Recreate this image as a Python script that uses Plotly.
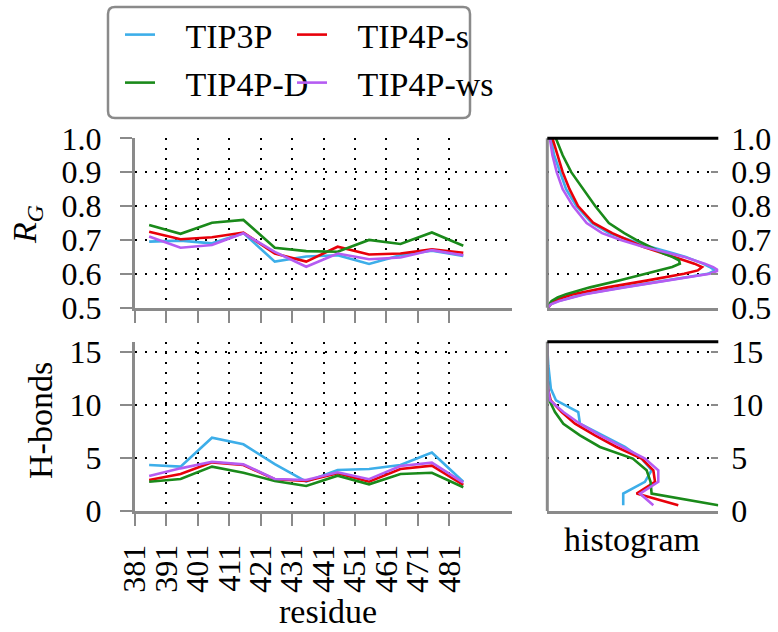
import plotly.graph_objects as go

# ---------------- data ----------------
series = ["TIP3P", "TIP4P-D", "TIP4P-s", "TIP4P-ws"]
colors = {"TIP3P": "#3DAEE9", "TIP4P-D": "#1A8A1A", "TIP4P-s": "#E8000A", "TIP4P-ws": "#B55CF2"}

residue_ticks = [381, 391, 401, 411, 421, 431, 441, 451, 461, 471, 481]
residue_pos = [385.5, 395.5, 405.5, 415.5, 425.5, 435.5, 445.5, 455.5, 465.5, 475.5, 485.5]

rg_tip3p = [0.695, 0.698, 0.690, 0.720, 0.636, 0.651, 0.655, 0.629, 0.655, 0.668, 0.653]
rg_tip4pd = [0.744, 0.718, 0.751, 0.759, 0.677, 0.667, 0.665, 0.700, 0.688, 0.722, 0.683]
rg_tip4ps = [0.724, 0.702, 0.708, 0.722, 0.660, 0.636, 0.680, 0.657, 0.660, 0.672, 0.662]
rg_tip4pws = [0.710, 0.677, 0.685, 0.720, 0.665, 0.621, 0.660, 0.643, 0.648, 0.670, 0.655]

hb_tip3p = [4.35, 4.19, 6.93, 6.30, 4.44, 2.77, 3.88, 3.97, 4.35, 5.52, 2.77]
hb_tip4pd = [2.77, 3.03, 4.19, 3.62, 2.84, 2.36, 3.34, 2.52, 3.50, 3.62, 2.24]
hb_tip4ps = [2.93, 3.50, 4.60, 4.35, 3.00, 2.84, 3.56, 2.77, 3.97, 4.29, 2.46]
hb_tip4pws = [3.31, 4.03, 4.66, 4.41, 3.03, 2.93, 3.66, 3.00, 4.25, 4.57, 2.68]

# histogram of R_G (relative density)
rg_levels = [0.50, 0.51, 0.52, 0.53, 0.54, 0.56, 0.58, 0.60, 0.61, 0.62, 0.63, 0.64,
             0.65, 0.66, 0.68, 0.70, 0.72, 0.75, 0.80, 0.85, 0.90, 0.95, 1.00]
rgh_tip3p = [0.005, 0.02, 0.065, 0.13, 0.21, 0.44, 0.68, 0.94, 0.98, 0.95, 0.91, 0.86,
             0.81, 0.74, 0.60, 0.48, 0.36, 0.26, 0.17, 0.11, 0.075, 0.04, 0.02]
rgh_tip4pd = [0.003, 0.01, 0.025, 0.06, 0.11, 0.25, 0.42, 0.58, 0.66, 0.73, 0.775, 0.77,
              0.73, 0.68, 0.60, 0.52, 0.45, 0.36, 0.28, 0.21, 0.14, 0.09, 0.05]
rgh_tip4ps = [0.005, 0.02, 0.045, 0.09, 0.15, 0.35, 0.58, 0.80, 0.88, 0.905, 0.86, 0.80,
              0.74, 0.67, 0.56, 0.47, 0.38, 0.27, 0.18, 0.13, 0.09, 0.06, 0.03]
rgh_tip4pws = [0.005, 0.02, 0.07, 0.14, 0.22, 0.45, 0.70, 0.95, 1.00, 0.97, 0.92, 0.86,
               0.80, 0.72, 0.56, 0.43, 0.32, 0.23, 0.15, 0.09, 0.055, 0.03, 0.015]

# histogram of H-bonds (relative density)
hb_levels = [0.55, 1.65, 2.75, 3.85, 4.95, 6.05, 7.15, 8.25, 9.35, 10.45, 11.55, 12.65, 13.75, 14.85, 15.95]
hbh_tip3p = [0.444, 0.444, 0.571, 0.610, 0.552, 0.454, 0.324, 0.191, 0.181, 0.051, 0.021, 0.012, 0.006, 0.002, 0.0]
hbh_tip4pd = [1.000, 0.610, 0.604, 0.581, 0.500, 0.308, 0.191, 0.094, 0.045, 0.012, 0.004, 0.0, 0.0, 0.0, 0.0]
hbh_tip4ps = [0.766, 0.522, 0.630, 0.620, 0.552, 0.405, 0.279, 0.162, 0.084, 0.020, 0.004, 0.0, 0.0, 0.0, 0.0]
hbh_tip4pws = [0.620, 0.542, 0.649, 0.649, 0.571, 0.435, 0.308, 0.191, 0.094, 0.016, 0.004, 0.0, 0.0, 0.0, 0.0]

rg_data = {"TIP3P": rg_tip3p, "TIP4P-D": rg_tip4pd, "TIP4P-s": rg_tip4ps, "TIP4P-ws": rg_tip4pws}
hb_data = {"TIP3P": hb_tip3p, "TIP4P-D": hb_tip4pd, "TIP4P-s": hb_tip4ps, "TIP4P-ws": hb_tip4pws}
rgh_data = {"TIP3P": rgh_tip3p, "TIP4P-D": rgh_tip4pd, "TIP4P-s": rgh_tip4ps, "TIP4P-ws": rgh_tip4pws}
hbh_data = {"TIP3P": hbh_tip3p, "TIP4P-D": hbh_tip4pd, "TIP4P-s": hbh_tip4ps, "TIP4P-ws": hbh_tip4pws}

rg_ticks = [0.5, 0.6, 0.7, 0.8, 0.9, 1.0]
rg_ticktext = ["0.5", "0.6", "0.7", "0.8", "0.9", "1.0"]
hb_ticks = [0, 5, 10, 15]

# ---------------- layout helpers ----------------
W, H = 778, 632
FONT = "Liberation Serif, DejaVu Serif, serif"
FS = 34      # titles / legend
TFS = 32     # tick labels
GRAY = "#8a8a8a"


def px(x):
    return x / W


def py(y):
    return 1 - y / H


xL = [px(135), px(512)]
xR = [px(547.3), px(718.3)]
yT = [py(307.7), py(138.3)]
yB = [py(511), py(341.7)]

LW = 2.6
fig = go.Figure()

# one legend per entry so that the 2x2 arrangement matches exactly
legend_of = {"TIP3P": "legend", "TIP4P-s": "legend2", "TIP4P-D": "legend3", "TIP4P-ws": "legend4"}
legend_pos = {"legend": (120, 35), "legend2": (292, 35), "legend3": (120, 83), "legend4": (292, 83)}
order = ["TIP3P", "TIP4P-s", "TIP4P-D", "TIP4P-ws"]
PAD = "\u00a0\u00a0\u00a0"

for s in order:
    fig.add_trace(go.Scatter(x=residue_pos, y=rg_data[s], mode="lines", name=PAD + s,
                             line=dict(color=colors[s], width=LW), xaxis="x", yaxis="y",
                             legend=legend_of[s], showlegend=True))
for s in order:
    fig.add_trace(go.Scatter(x=rgh_data[s], y=rg_levels, mode="lines", name=s,
                             line=dict(color=colors[s], width=LW), xaxis="x2", yaxis="y2",
                             showlegend=False))
for s in order:
    fig.add_trace(go.Scatter(x=residue_pos, y=hb_data[s], mode="lines", name=s,
                             line=dict(color=colors[s], width=LW), xaxis="x3", yaxis="y3",
                             showlegend=False))
for s in order:
    fig.add_trace(go.Scatter(x=hbh_data[s], y=hb_levels, mode="lines", name=s,
                             line=dict(color=colors[s], width=LW), xaxis="x4", yaxis="y4",
                             showlegend=False))

grid = dict(showgrid=True, gridcolor="black", gridwidth=1.6, griddash="2px,8px", zeroline=False)
tickfont = dict(family=FONT, size=TFS, color="black")

left_x_common = dict(domain=xL, range=[381, 501], tickmode="array", tickvals=residue_ticks,
                     ticks="outside", ticklen=12, tickwidth=2, tickcolor=GRAY,
                     showline=True, linecolor=GRAY, linewidth=3, **grid)

legends = {}
for key, (lx, ly) in legend_pos.items():
    legends[key] = dict(orientation="v", x=px(lx), xanchor="left", y=py(ly), yanchor="middle",
                        bgcolor="rgba(0,0,0,0)", borderwidth=0,
                        font=dict(family=FONT, size=FS, color="black"))

fig.update_layout(
    width=W, height=H,
    margin=dict(l=0, r=0, t=0, b=0, autoexpand=False),
    paper_bgcolor="white", plot_bgcolor="white",
    font=dict(family=FONT, size=FS, color="black"),
    xaxis=dict(anchor="y", showticklabels=False, **left_x_common),
    yaxis=dict(domain=yT, anchor="x", range=[0.5, 1.0], tickmode="array", tickvals=rg_ticks,
               ticktext=rg_ticktext, ticks="outside", ticklen=12, tickwidth=2, tickcolor=GRAY,
               showline=True, linecolor=GRAY, linewidth=3, tickfont=tickfont,
               ticklabelstandoff=12, **grid),
    xaxis2=dict(domain=xR, anchor="y2", range=[0, 1.0], showticklabels=False, ticks="",
                showgrid=False, zeroline=False, showline=True, linecolor=GRAY, linewidth=3),
    yaxis2=dict(domain=yT, anchor="x2", side="right", range=[0.5, 1.0], tickmode="array",
                tickvals=rg_ticks, ticktext=rg_ticktext, ticks="inside", ticklen=7, tickwidth=2,
                tickcolor=GRAY, showline=False, tickfont=tickfont, ticklabelstandoff=12, **grid),
    xaxis3=dict(anchor="y3", tickangle=-90, tickfont=tickfont, ticklabelstandoff=6,
                **left_x_common),
    yaxis3=dict(domain=yB, anchor="x3", range=[0, 16], tickmode="array", tickvals=hb_ticks,
                ticks="outside", ticklen=12, tickwidth=2, tickcolor=GRAY,
                showline=True, linecolor=GRAY, linewidth=3, tickfont=tickfont,
                ticklabelstandoff=12, **grid),
    xaxis4=dict(domain=xR, anchor="y4", range=[0, 1.0], showticklabels=False, ticks="",
                showgrid=False, zeroline=False, showline=True, linecolor=GRAY, linewidth=3),
    yaxis4=dict(domain=yB, anchor="x4", side="right", range=[0, 16], tickmode="array",
                tickvals=hb_ticks, ticks="inside", ticklen=7, tickwidth=2, tickcolor=GRAY,
                showline=False, tickfont=tickfont, ticklabelstandoff=12, **grid),
    **legends,
)

# legend frame (rounded rectangle)
x0, x1, y0, y1, r = 108, 470, 7, 118, 7
path = (f"M{px(x0 + r)},{py(y0)} L{px(x1 - r)},{py(y0)} Q{px(x1)},{py(y0)} {px(x1)},{py(y0 + r)} "
        f"L{px(x1)},{py(y1 - r)} Q{px(x1)},{py(y1)} {px(x1 - r)},{py(y1)} "
        f"L{px(x0 + r)},{py(y1)} Q{px(x0)},{py(y1)} {px(x0)},{py(y1 - r)} "
        f"L{px(x0)},{py(y0 + r)} Q{px(x0)},{py(y0)} {px(x0 + r)},{py(y0)} Z")
fig.add_shape(type="path", path=path, xref="paper", yref="paper",
              line=dict(color=GRAY, width=2.5), fillcolor="rgba(0,0,0,0)", layer="above")

# histogram panel frames: left gray axis and black top line
for xa, ya in (("x2", "y2"), ("x4", "y4")):
    fig.add_shape(type="line", xref=f"{xa} domain", yref=f"{ya} domain", x0=0, x1=0, y0=0, y1=1,
                  line=dict(color=GRAY, width=3), layer="above")
    fig.add_shape(type="line", xref=f"{xa} domain", yref=f"{ya} domain", x0=0, x1=1, y0=1, y1=1,
                  line=dict(color="black", width=3), layer="above")

ann_font = dict(family=FONT, size=FS, color="black")
fig.add_annotation(text="<i>R</i><sub><i>G</i></sub>", x=px(27), y=py(225), xref="paper", yref="paper",
                   showarrow=False, textangle=-90, font=ann_font, xanchor="center", yanchor="middle")
fig.add_annotation(text="H-bonds", x=px(40), y=py(421), xref="paper", yref="paper",
                   showarrow=False, textangle=-90, font=ann_font, xanchor="center", yanchor="middle")
fig.add_annotation(text="residue", x=px(328), y=py(611), xref="paper", yref="paper",
                   showarrow=False, font=ann_font, xanchor="center", yanchor="middle")
fig.add_annotation(text="histogram", x=px(632), y=py(539), xref="paper", yref="paper",
                   showarrow=False, font=ann_font, xanchor="center", yanchor="middle")

fig.write_html("out.html")
